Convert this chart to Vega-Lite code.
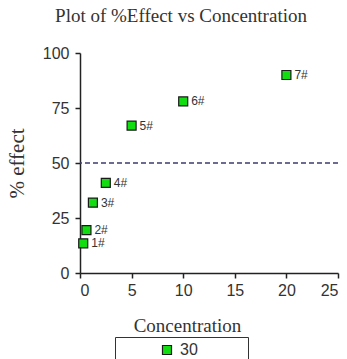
{
  "$schema": "https://vega.github.io/schema/vega-lite/v6.json",
  "background": "white",
  "width": 258,
  "height": 220,
  "autosize": {"type": "none"},
  "padding": {"left": 80, "top": 53, "right": 9, "bottom": 86},
  "title": {
    "text": "Plot of %Effect vs Concentration",
    "font": "Liberation Serif",
    "fontSize": 19,
    "fontWeight": "normal",
    "color": "#333333",
    "anchor": "middle",
    "offset": 19,
    "dx": -28
  },
  "config": {
    "view": {"stroke": null},
    "axis": {
      "grid": false,
      "domainColor": "#222222",
      "domainWidth": 1.5,
      "tickColor": "#222222",
      "tickWidth": 1.5,
      "tickSize": 5,
      "labelFont": "Liberation Sans",
      "labelFontSize": 16,
      "labelColor": "#333333",
      "titleFont": "Liberation Serif",
      "titleFontSize": 19,
      "titleFontWeight": "normal",
      "titleColor": "#333333"
    }
  },
  "data": {
    "values": [
      {"concentration": 0.3125, "effect": 13.5, "label": "1#", "series": "30"},
      {"concentration": 0.625, "effect": 19.5, "label": "2#", "series": "30"},
      {"concentration": 1.25, "effect": 32, "label": "3#", "series": "30"},
      {"concentration": 2.5, "effect": 41, "label": "4#", "series": "30"},
      {"concentration": 5, "effect": 67, "label": "5#", "series": "30"},
      {"concentration": 10, "effect": 78, "label": "6#", "series": "30"},
      {"concentration": 20, "effect": 90, "label": "7#", "series": "30"}
    ]
  },
  "layer": [
    {
      "data": {"values": [{"half_effect": 50}]},
      "mark": {"type": "rule", "color": "#3c3c70", "strokeWidth": 1.4, "strokeDash": [5, 3]},
      "encoding": {
        "y": {"field": "half_effect", "type": "quantitative"}
      }
    },
    {
      "mark": {
        "type": "point",
        "shape": "square",
        "filled": true,
        "size": 81,
        "stroke": "#1a1a1a",
        "strokeWidth": 1.2,
        "opacity": 1
      },
      "encoding": {
        "x": {
          "field": "concentration",
          "type": "quantitative",
          "scale": {"domain": [0, 25], "nice": false},
          "axis": {
            "title": "Concentration",
            "values": [0, 5, 10, 15, 20, 25],
            "labelPadding": 4,
            "titlePadding": 18,
            "titleX": 107
          }
        },
        "y": {
          "field": "effect",
          "type": "quantitative",
          "scale": {"domain": [0, 100], "nice": false},
          "axis": {
            "title": "% effect",
            "titleFontSize": 21,
            "values": [0, 25, 50, 75, 100],
            "labelPadding": 6,
            "titlePadding": 15
          }
        },
        "fill": {
          "field": "series",
          "type": "nominal",
          "scale": {"range": ["#11dd11"]},
          "legend": {
            "title": null,
            "orient": "none",
            "legendX": 35,
            "legendY": 284,
            "strokeColor": "#333333",
            "padding": 5,
            "symbolType": "square",
            "symbolSize": 81,
            "symbolStrokeColor": "#1a1a1a",
            "symbolStrokeWidth": 1.2,
            "symbolOpacity": 1,
            "symbolOffset": 39,
            "labelOffset": 5,
            "labelExpr": "datum.label + '\u00a0\u00a0\u00a0\u00a0\u00a0\u00a0\u00a0\u00a0\u00a0\u00a0\u200b'",
            "labelFont": "Liberation Sans",
            "labelFontSize": 16,
            "labelColor": "#333333"
          }
        }
      }
    },
    {
      "mark": {
        "type": "text",
        "align": "left",
        "baseline": "middle",
        "dx": 8,
        "font": "Liberation Sans",
        "fontSize": 12,
        "color": "#333333"
      },
      "encoding": {
        "x": {"field": "concentration", "type": "quantitative"},
        "y": {"field": "effect", "type": "quantitative"},
        "text": {"field": "label"}
      }
    }
  ]
}
